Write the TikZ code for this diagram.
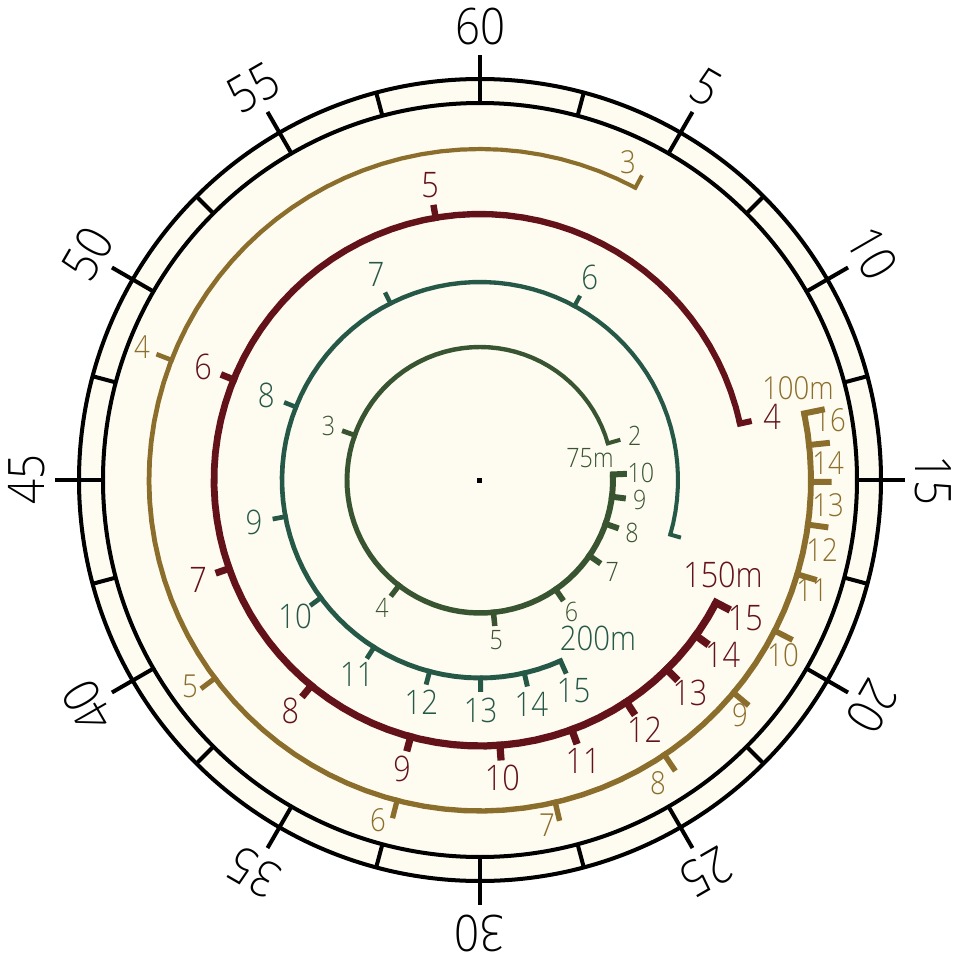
\documentclass[tikz,border=0pt]{standalone}
\usepackage{fontspec}
\setmainfont{Open Sans}[FakeStretch=0.87,UprightFont=* Light]
\definecolor{dialcream}{RGB}{254,251,240}
\definecolor{dialolive}{RGB}{56,84,48}
\definecolor{dialteal}{RGB}{38,88,72}
\definecolor{dialred}{RGB}{100,18,26}
\definecolor{dialgold}{RGB}{140,110,44}

\begin{document}
\begin{tikzpicture}[x=0.01cm,y=0.01cm,
    ring/.style={line width=1.14pt,black},
    bignum/.style={font=\fontsize{14.3}{16}\selectfont,inner sep=0},
    olivenum/.style={font=\fontsize{7.6}{9}\selectfont,text=dialolive,inner sep=0},
    tealnum/.style={font=\fontsize{9.6}{11}\selectfont,text=dialteal,inner sep=0},
    rednum/.style={font=\fontsize{10}{12}\selectfont,text=dialred,inner sep=0},
    goldnum/.style={font=\fontsize{9}{11}\selectfont,text=dialgold,inner sep=0},
  ]
  \useasboundingbox (-480,-480) rectangle (480,480);
  \fill[white] (-480,-480) rectangle (480,480);
  % dial ring
  \fill[dialcream] (0,0) circle[radius=401];
  \draw[ring] (0,0) circle[radius=401];
  \draw[ring] (0,0) circle[radius=377];
  \foreach \v in {2.5,7.5,...,57.5}
    \draw[ring] ({90-6*\v}:377) -- ({90-6*\v}:401);
  \foreach \v in {5,10,...,60} {
    \draw[ring] ({90-6*\v}:377) -- ({90-6*\v}:425);
    \node[bignum,rotate=-6*\v] (v\v) at ({90-6*\v}:453) {\v};
  }
  \fill (-2.5,-2.5) rectangle (2.5,2.5);
  % spirals: angle = 449 - K/t
  \foreach \K/\R/\ta/\tb/\wa/\wb/\la/\lb/\col in {866/133/2/10/4/6/13/14/dialolive,
      2325/198/5/15/4/5/11/14/dialteal, 1747/266/4/15/6/7.5/12/16/dialred,
      1161/331/3/15/4/6/14/21/dialgold} {
    \pgfmathsetmacro\angA{449-\K/\ta}
    \pgfmathsetmacro\angB{449-\K/\tb}
    \fill[\col] plot[domain=\angA:\angB,samples=90]
        (\x:{\R+(\wa+(\wb-\wa)*(\x-\angA)/(\angB-\angA))/2})
      -- plot[domain=\angB:\angA,samples=90]
        (\x:{\R-(\wa+(\wb-\wa)*(\x-\angA)/(\angB-\angA))/2}) -- cycle;
    \foreach \t in {\ta,...,\tb} {
      \pgfmathsetmacro\ang{449-\K/\t}
      \pgfmathsetmacro\frc{(\ang-\angA)/(\angB-\angA)}
      \pgfmathsetmacro\wid{\wa+(\wb-\wa)*\frc}
      \pgfmathsetmacro\len{\la+(\lb-\la)*\frc}
      \pgfmathsetmacro\lwd{0.2845*\wid}
      \draw[\col,line width=\lwd pt] (\ang:{\R-\wid/2}) -- (\ang:{\R+\len});
    }
  }
  % tick labels
  \foreach \t in {2,...,10}
    \node[olivenum] (o\t) at ({449-866/\t}:161) {\t};
  \foreach \t in {6,...,15}
    \node[tealnum] (c\t) at ({449-2325/\t}:230) {\t};
  \foreach \t in {4,...,15}
    \node[rednum] (r\t) at ({449-1747/\t}:299) {\t};
  \foreach \n/\px/\py in {3/148/318,4/-338/133,5/-290/-206,6/-102/-340,7/67/-345,
      8/178/-303,9/260/-235,10/303/-175,11/332/-110,12/342/-70,13/348/-25,
      14/348/17,16/350/60}
    \node[goldnum] (g\n) at (\px,\py) {\n};
  % distances
  \node[olivenum] (d75) at (110,22) {75m};
  \node[tealnum] (d200) at (118,-158) {200m};
  \node[rednum] (d150) at (243,-95) {150m};
  \node[goldnum] (d100) at (318,92) {100m};
\end{tikzpicture}
\end{document}
